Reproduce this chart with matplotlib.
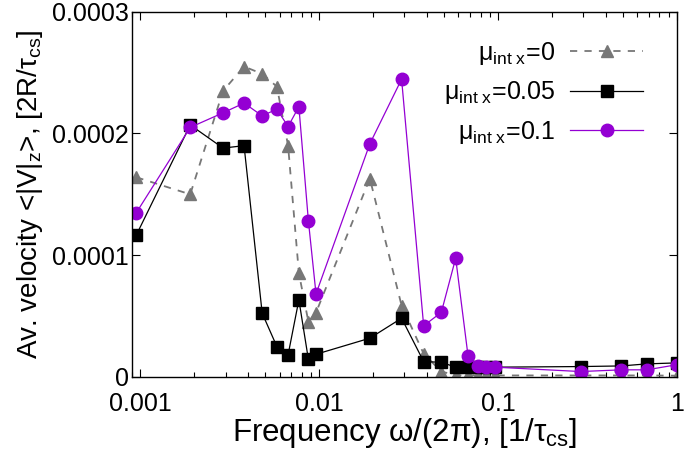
import matplotlib
matplotlib.use("Agg")
import matplotlib.pyplot as plt
from matplotlib.ticker import FixedLocator, FixedFormatter, LogLocator, NullFormatter

plt.rcParams['font.family'] = ['Liberation Sans', 'DejaVu Sans']
plt.rcParams['mathtext.fontset'] = 'custom'
plt.rcParams['mathtext.rm'] = 'Liberation Sans'
plt.rcParams['mathtext.it'] = 'Liberation Sans:italic'

# frequency omega/(2 pi)
freq = [0.00095, 0.0019, 0.0029, 0.0038, 0.0048, 0.0058, 0.0067, 0.0077, 0.0087,
        0.0096, 0.0192, 0.0289, 0.0384, 0.0482, 0.058, 0.068, 0.077, 0.086, 0.096,
        0.29, 0.49, 0.68, 1.0]

# mu_int x = 0
v_mu0 = [1.64e-4, 1.50e-4, 2.35e-4, 2.55e-4, 2.49e-4, 2.385e-4, 1.90e-4, 0.852e-4, 0.454e-4,
         0.528e-4, 1.63e-4, 0.586e-4, 0.19e-4, 0.044e-4, 0.015e-4, 0.012e-4, 0.012e-4, 0.012e-4, 0.012e-4,
         0.012e-4, 0.012e-4, 0.012e-4, 0.01e-4]
# mu_int x = 0.05
v_mu005 = [1.167e-4, 2.07e-4, 1.88e-4, 1.90e-4, 0.523e-4, 0.249e-4, 0.181e-4, 0.633e-4, 0.145e-4,
           0.186e-4, 0.318e-4, 0.482e-4, 0.126e-4, 0.12e-4, 0.08e-4, 0.08e-4, 0.08e-4, 0.08e-4, 0.08e-4,
           0.085e-4, 0.09e-4, 0.107e-4, 0.115e-4]
# mu_int x = 0.1
v_mu01 = [1.35e-4, 2.05e-4, 2.17e-4, 2.25e-4, 2.145e-4, 2.20e-4, 2.057e-4, 2.22e-4, 1.284e-4,
          0.682e-4, 1.915e-4, 2.446e-4, 0.42e-4, 0.53e-4, 0.975e-4, 0.173e-4, 0.09e-4, 0.08e-4, 0.08e-4,
          0.044e-4, 0.058e-4, 0.058e-4, 0.10e-4]

labels = ['μ$_{\\mathrm{int\\ x}}$=0', 'μ$_{\\mathrm{int\\ x}}$=0.05', 'μ$_{\\mathrm{int\\ x}}$=0.1']
xticks = [0.001, 0.01, 0.1, 1]
xticklabels = ['0.001', '0.01', '0.1', '1']
yticks = [0, 0.0001, 0.0002, 0.0003]
yticklabels = ['0', '0.0001', '0.0002', '0.0003']

fig = plt.figure(figsize=(6.85, 4.53), dpi=100)
ax = fig.add_axes([0.193, 0.168, 0.795, 0.806])

ax.plot(freq, v_mu0, color='#777777', ls=(0, (4, 4)), lw=1.3, marker='^', ms=9,
        mec='#777777', mfc='#777777', label=labels[0])
ax.plot(freq, v_mu005, color='black', ls='-', lw=0.9, marker='s', ms=8,
        mec='black', mfc='black', label=labels[1])
ax.plot(freq, v_mu01, color='#9400D3', ls='-', lw=0.9, marker='o', ms=9,
        mec='#9400D3', mfc='#9400D3', label=labels[2])

ax.set_xscale('log')
ax.set_xlim(0.0009, 1.0)
ax.set_ylim(0, 0.0003)
ax.xaxis.set_major_locator(FixedLocator(xticks))
ax.xaxis.set_major_formatter(FixedFormatter(xticklabels))
ax.xaxis.set_minor_locator(LogLocator(base=10, subs=range(2, 10), numticks=20))
ax.xaxis.set_minor_formatter(NullFormatter())
ax.yaxis.set_major_locator(FixedLocator(yticks))
ax.yaxis.set_major_formatter(FixedFormatter(yticklabels))

ax.tick_params(which='both', direction='in', top=True, right=True, labelsize=18)
ax.tick_params(axis='x', which='major', pad=11)
ax.tick_params(axis='y', which='major', pad=2.5)
ax.tick_params(which='major', length=6, width=0.8)
ax.tick_params(which='minor', length=3.5, width=0.8)
for s in ax.spines.values():
    s.set_linewidth(1.0)

ax.set_xlabel('Frequency ω/(2π), [1/τ$_{\\mathrm{cs}}$]', fontsize=22.5, labelpad=0)
ax.set_ylabel('Av. velocity <|V|$_{\\mathrm{z}}$>, [2R/τ$_{\\mathrm{cs}}$]', fontsize=20)
ax.yaxis.set_label_coords(-0.16, 0.5)

leg = ax.legend(loc='upper right', bbox_to_anchor=(0.956, 0.95), frameon=False, markerfirst=False,
                fontsize=18, handlelength=2.9, handletextpad=0.6, labelspacing=0.49,
                borderaxespad=0, borderpad=0.4)
for t in leg.get_texts():
    t.set_ha('right')

fig.savefig('out.png', dpi=100)
